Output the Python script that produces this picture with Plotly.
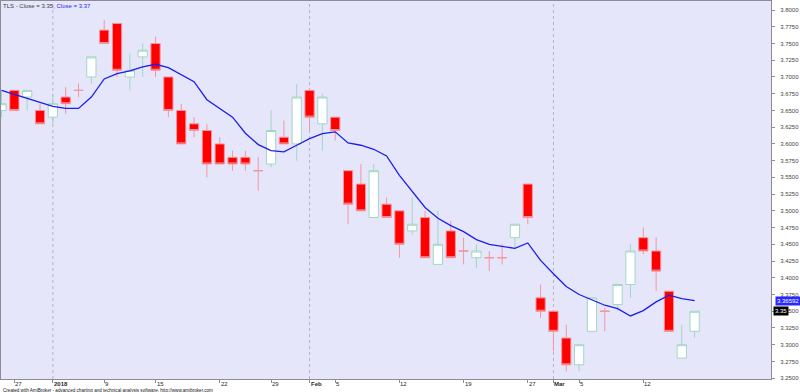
import plotly.graph_objects as go

# ---------------- data ----------------
bar_index = list(range(55))
opens = [3.650, 3.680, 3.670, 3.650, 3.640, 3.670, 3.680, 3.700, 3.770, 3.780,
         3.700, 3.730, 3.750, 3.700, 3.650, 3.630, 3.620, 3.600, 3.580, 3.580,
         3.560, 3.570, 3.610, 3.600, 3.680, 3.630, 3.640, 3.560, 3.540, 3.490,
         3.510, 3.500, 3.470, 3.490, 3.420, 3.470, 3.440, 3.430, 3.430, 3.430,
         3.460, 3.540, 3.370, 3.350, 3.310, 3.270, 3.320, 3.350, 3.360, 3.390,
         3.460, 3.440, 3.380, 3.280, 3.320]
highs = [3.680, 3.680, 3.680, 3.660, 3.675, 3.685, 3.690, 3.730, 3.785, 3.780,
         3.735, 3.750, 3.760, 3.700, 3.660, 3.640, 3.630, 3.610, 3.590, 3.590,
         3.580, 3.650, 3.635, 3.690, 3.680, 3.675, 3.640, 3.560, 3.570, 3.570,
         3.520, 3.500, 3.520, 3.500, 3.500, 3.485, 3.460, 3.450, 3.440, 3.450,
         3.480, 3.540, 3.390, 3.350, 3.330, 3.300, 3.370, 3.355, 3.390, 3.450,
         3.475, 3.460, 3.380, 3.330, 3.350]
lows = [3.640, 3.650, 3.650, 3.630, 3.630, 3.645, 3.670, 3.690, 3.750, 3.700,
        3.680, 3.700, 3.700, 3.640, 3.600, 3.610, 3.550, 3.570, 3.560, 3.560,
        3.530, 3.565, 3.600, 3.575, 3.620, 3.590, 3.605, 3.480, 3.500, 3.490,
        3.490, 3.430, 3.465, 3.430, 3.420, 3.430, 3.420, 3.415, 3.410, 3.420,
        3.445, 3.480, 3.340, 3.290, 3.260, 3.260, 3.320, 3.320, 3.350, 3.370,
        3.435, 3.380, 3.320, 3.280, 3.310]
closes = [3.660, 3.650, 3.680, 3.630, 3.660, 3.660, 3.680, 3.730, 3.750, 3.710,
          3.710, 3.740, 3.710, 3.650, 3.600, 3.620, 3.570, 3.570, 3.570, 3.570,
          3.560, 3.620, 3.600, 3.670, 3.640, 3.670, 3.620, 3.510, 3.500, 3.560,
          3.490, 3.450, 3.480, 3.430, 3.450, 3.430, 3.440, 3.440, 3.430, 3.430,
          3.480, 3.490, 3.350, 3.320, 3.270, 3.300, 3.370, 3.350, 3.390, 3.440,
          3.440, 3.410, 3.320, 3.300, 3.350]
ma_values = [3.680, 3.674, 3.669, 3.663, 3.656, 3.653, 3.653, 3.670, 3.697, 3.705,
             3.709, 3.715, 3.719, 3.714, 3.703, 3.693, 3.666, 3.653, 3.640, 3.616,
             3.599, 3.590, 3.588, 3.598, 3.608, 3.6155, 3.618, 3.6015, 3.598, 3.592,
             3.582, 3.553, 3.529, 3.505, 3.489, 3.478, 3.469, 3.457, 3.450, 3.447,
             3.444, 3.452, 3.426, 3.406, 3.387, 3.375, 3.367, 3.359, 3.354, 3.343,
             3.351, 3.364, 3.374, 3.369, 3.36592]

x_label_index = [1, 4, 8, 12, 17, 21, 24, 26, 31, 36, 41, 43, 45, 50]
x_label_text = ["27", "2018", "9", "15", "22", "29", "Feb", "5", "12", "19", "27", "Mar", "5", "12"]
x_label_bold = [False, True, False, False, False, False, True, False, False, False, False, True, False, False]
separator_index = [4, 24, 43]

y_tick_labels = ["3.2500", "3.2750", "3.3000", "3.3250", "3.3500", "3.3750", "3.4000",
                 "3.4250", "3.4500", "3.4750", "3.5000", "3.5250", "3.5500", "3.5750",
                 "3.6000", "3.6250", "3.6500", "3.6750", "3.7000", "3.7250", "3.7500",
                 "3.7750", "3.8000"]

title_text = "TLS - Close = 3.35, "
title_ma_text = "Close = 3.37"
footer_text = "Created with AmiBroker - advanced charting and technical analysis software. http://www.amibroker.com"

# ---------------- styles ----------------
FONT = "Liberation Sans, Arial, sans-serif"
BG = "rgb(230,230,250)"
RED = "rgb(255,0,0)"
RED_EDGE = "rgb(244,150,160)"
WHITE = "rgb(255,255,255)"
GREEN_EDGE = "rgb(160,214,196)"
BLUE = "rgb(30,30,235)"
AXIS = "rgb(140,140,150)"

up = [i for i in bar_index if closes[i] > opens[i]]
dn = [i for i in bar_index if closes[i] <= opens[i]]

fig = go.Figure()


def add_candles(idx, fill, edge):
    fig.add_trace(go.Candlestick(
        x=[bar_index[i] for i in idx],
        open=[opens[i] for i in idx],
        high=[highs[i] for i in idx],
        low=[lows[i] for i in idx],
        close=[closes[i] for i in idx],
        increasing=dict(line=dict(color=edge, width=1), fillcolor=fill),
        decreasing=dict(line=dict(color=edge, width=1), fillcolor=fill),
        whiskerwidth=0,
        showlegend=False,
        hoverinfo="skip",
    ))


add_candles(dn, RED, RED_EDGE)
add_candles(up, WHITE, GREEN_EDGE)

fig.add_trace(go.Scatter(
    x=bar_index, y=ma_values, mode="lines",
    line=dict(color=BLUE, width=1.3),
    showlegend=False, hoverinfo="skip",
))

shapes = []
for s in separator_index:
    shapes.append(dict(type="line", xref="x", yref="paper", x0=s, x1=s, y0=0, y1=1,
                       line=dict(color="rgb(180,180,200)", width=1, dash="dot"), layer="below"))

annotations = []
for idx, txt, bold in zip(x_label_index, x_label_text, x_label_bold):
    annotations.append(dict(
        x=idx, xref="x", y=0, yref="paper", yanchor="top", xanchor="left",
        text=("<b>%s</b>" % txt) if bold else txt, showarrow=False,
        font=dict(family=FONT, size=6, color="rgb(40,40,40)"),
        xshift=0, yshift=-1, borderpad=0,
    ))

annotations.append(dict(
    x=0, xref="paper", y=1, yref="paper", xanchor="left", yanchor="top",
    text=title_text + "<span style='color:rgb(40,40,235)'>" + title_ma_text + "</span>",
    showarrow=False, font=dict(family=FONT, size=6, color="rgb(60,60,60)"),
    xshift=1, yshift=-1, borderpad=0,
))

annotations.append(dict(
    x=0, xref="paper", y=0, yref="paper", xanchor="left", yanchor="top",
    text=footer_text, showarrow=False,
    font=dict(family=FONT, size=4.6, color="rgb(20,20,20)"),
    xshift=1, yshift=-8, borderpad=0,
))

# last-value markers on the price axis
annotations.append(dict(
    x=1, xref="paper", y=ma_values[-1], yref="y", xanchor="left", yanchor="middle",
    text="%.5f" % ma_values[-1], showarrow=False, bgcolor="rgb(40,40,255)",
    font=dict(family=FONT, size=6, color="white"), xshift=4, borderpad=1,
))
annotations.append(dict(
    x=1, xref="paper", y=closes[-1], yref="y", xanchor="left", yanchor="middle",
    text="%.2f" % closes[-1], showarrow=False, bgcolor="rgb(0,0,0)",
    font=dict(family=FONT, size=6, color="white"), xshift=2, borderpad=1,
))

fig.update_layout(
    width=800, height=392,
    margin=dict(l=1, r=29, t=1, b=13),
    paper_bgcolor="white", plot_bgcolor=BG,
    boxgap=0.28, boxgroupgap=0,
    shapes=shapes, annotations=annotations,
    xaxis=dict(
        range=[-0.04, 59.95], rangeslider=dict(visible=False),
        showgrid=False, zeroline=False,
        tickvals=x_label_index, ticktext=[""] * len(x_label_index),
        ticks="outside", ticklen=3, tickcolor=AXIS,
        showline=True, linecolor=AXIS, linewidth=1, mirror=True,
    ),
    yaxis=dict(
        range=[3.2488, 3.8135], side="right",
        tickvals=[float(t) for t in y_tick_labels], ticktext=y_tick_labels,
        ticks="outside", ticklen=3, tickcolor=AXIS,
        tickfont=dict(family=FONT, size=6, color="rgb(70,70,70)"),
        ticklabelstandoff=4,
        showgrid=False, zeroline=False,
        showline=True, linecolor=AXIS, linewidth=1, mirror=True,
    ),
)

fig.write_html("out.html", config={"displayModeBar": False},
               post_script="document.body.style.margin='0px';document.body.style.overflow='hidden';")
